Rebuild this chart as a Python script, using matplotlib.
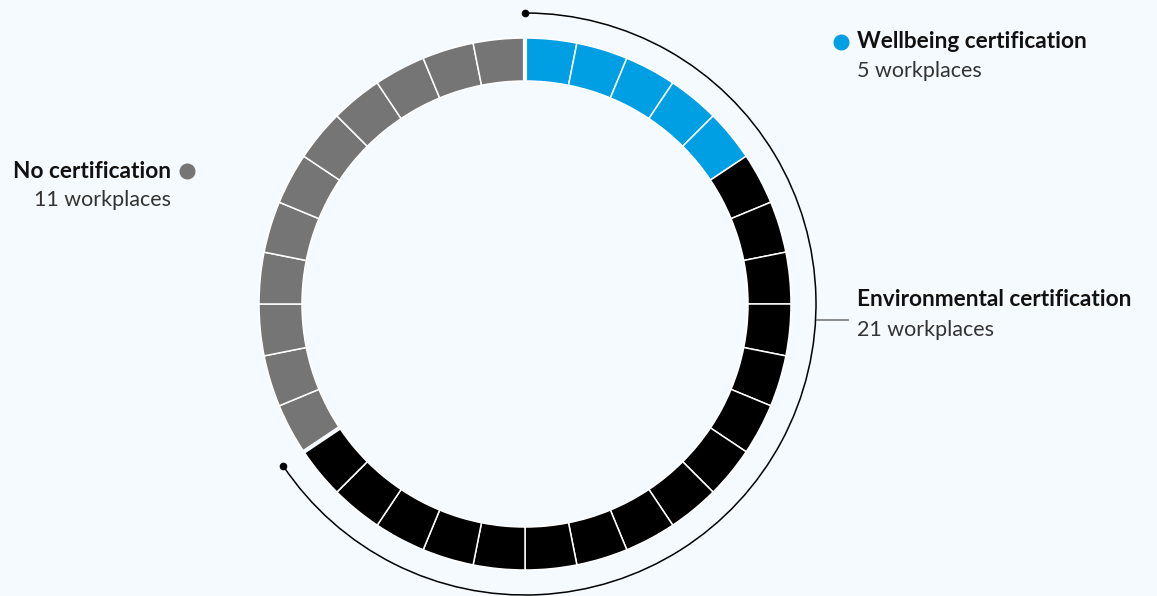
import numpy as np
import matplotlib.pyplot as plt
from matplotlib.patches import Arc

plt.rcParams['font.family'] = ['Lato', 'DejaVu Sans']

# Data
categories = ['Wellbeing certification', 'Environmental certification', 'No certification']
workplaces = [5, 21, 11]   # wellbeing is a subset of environmental
colors = {'wellbeing': '#009fe3', 'environmental': '#000000', 'none': '#757575'}
bg = '#f5faff'

n_well, n_env, n_none = workplaces
total = n_env + n_none
seg_colors = ([colors['wellbeing']] * n_well
              + [colors['environmental']] * (n_env - n_well)
              + [colors['none']] * n_none)

W, H = 1157, 596
fig = plt.figure(figsize=(W / 100, H / 100), dpi=100, facecolor=bg)
ax = fig.add_axes([0, 0, 1, 1])
ax.set_facecolor(bg)

cx, cy = 525, H - 304
r_out, ring_w = 266, 43

ax.pie([1] * total, colors=seg_colors, startangle=90, counterclock=False,
       center=(cx, cy), radius=r_out, frame=True,
       wedgeprops=dict(width=ring_w, edgecolor='white', linewidth=1.1))
ax.set_xlim(0, W)
ax.set_ylim(0, H)
ax.set_aspect('equal')
ax.axis('off')

# thicker gaps between groups
for k in [0, n_env]:
    ang = np.deg2rad(90 - 360 * k / total)
    rr = np.array([r_out - ring_w - 1, r_out + 1])
    ax.plot(cx + rr * np.cos(ang), cy + rr * np.sin(ang), color=bg, lw=3,
            solid_capstyle='butt', zorder=5)

# bracket arc for environmental certification
r_arc = 291
end_ang = 90 - 360 * n_env / total
ax.add_patch(Arc((cx, cy), 2 * r_arc, 2 * r_arc, theta1=end_ang, theta2=90,
                 color='black', lw=1.1, zorder=4))
for a in [90, end_ang]:
    t = np.deg2rad(a)
    ax.plot(cx + r_arc * np.cos(t), cy + r_arc * np.sin(t), 'o', color='black',
            ms=4.5, zorder=6)

# connector to environmental label
ax.plot([817, 848], [H - 320, H - 320], color='#777777', lw=1.2)

lab_fs, sub_fs = 16.3, 15.5
# Wellbeing
ax.plot(841, H - 42, 'o', color=colors['wellbeing'], ms=10.5)
ax.text(857, H - 42, categories[0], fontsize=lab_fs, fontweight='bold',
        color='#111111', va='center', ha='left')
ax.text(857, H - 71, f'{n_well} workplaces', fontsize=sub_fs, color='#333333',
        va='center', ha='left')
# Environmental
ax.text(857, H - 300, categories[1], fontsize=lab_fs, fontweight='bold',
        color='#111111', va='center', ha='left')
ax.text(857, H - 330, f'{n_env} workplaces', fontsize=sub_fs, color='#333333',
        va='center', ha='left')
# None
ax.plot(187, H - 171, 'o', color=colors['none'], ms=10.5)
ax.text(171, H - 171, categories[2], fontsize=lab_fs, fontweight='bold',
        color='#111111', va='center', ha='right')
ax.text(171, H - 200, f'{n_none} workplaces', fontsize=sub_fs, color='#333333',
        va='center', ha='right')

fig.savefig('out.png', dpi=100, facecolor=bg)
